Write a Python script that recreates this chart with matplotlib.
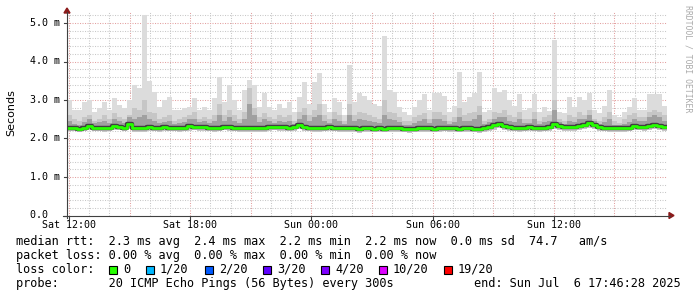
import numpy as np
import matplotlib
matplotlib.use("Agg")
import matplotlib.pyplot as plt
from matplotlib.patches import Polygon, Rectangle
from matplotlib.lines import Line2D

# ---------------- data (milliseconds) ----------------
START_H = -0.1          # hours relative to Sat 12:00
STEP_H = 0.2475         # sample interval (hours)

rtt_max = [3.0, 2.74, 2.75, 2.95, 3.0, 2.7, 2.8, 2.95, 2.75, 3.05,
           2.87, 2.8, 3.0, 3.39, 3.3, 5.2, 3.5, 3.2, 2.83, 3.0,
           3.08, 2.74, 2.74, 2.8, 2.82, 3.05, 2.75, 2.82, 2.75, 3.05,
           3.6, 2.95, 3.39, 3.0, 2.75, 3.26, 3.52, 3.4, 2.82, 3.18,
           2.82, 2.74, 2.9, 2.8, 2.95, 2.68, 3.08, 3.47, 2.9, 3.47,
           3.7, 2.9, 2.7, 3.05, 2.95, 2.6, 3.9, 2.95, 3.17, 3.1,
           3.0, 2.9, 2.85, 4.65, 3.26, 3.2, 2.82, 2.68, 2.6, 2.82,
           3.0, 3.15, 2.75, 3.17, 3.17, 3.1, 2.7, 2.85, 3.73, 2.95,
           3.08, 3.17, 3.73, 2.68, 2.75, 3.3, 3.2, 3.26, 3.0, 2.85,
           3.15, 2.75, 2.8, 3.15, 2.7, 2.82, 2.72, 4.55, 2.7, 2.65,
           3.08, 2.82, 3.08, 3.0, 3.17, 2.75, 2.65, 2.85, 3.26, 2.6,
           2.55, 2.7, 2.82, 3.05, 2.75, 2.75, 3.15, 3.15, 3.15, 2.85]

rtt_p80 = [2.6, 2.5, 2.45, 2.55, 2.6, 2.45, 2.5, 2.6, 2.5, 2.65,
           2.55, 2.5, 2.6, 2.8, 2.75, 3.0, 2.7, 2.65, 2.5, 2.55,
           2.6, 2.45, 2.5, 2.55, 2.6, 2.7, 2.5, 2.55, 2.5, 2.6,
           2.9, 2.6, 2.75, 2.6, 2.5, 2.7, 3.3, 2.8, 2.55, 2.65,
           2.55, 2.5, 2.6, 2.55, 2.6, 2.45, 2.7, 2.8, 2.6, 2.75,
           2.9, 2.6, 2.5, 2.7, 2.6, 2.45, 2.9, 2.6, 2.7, 2.65,
           2.6, 2.55, 2.5, 3.0, 2.7, 2.65, 2.55, 2.45, 2.45, 2.55,
           2.6, 2.65, 2.5, 2.7, 2.7, 2.6, 2.45, 2.55, 2.8, 2.6,
           2.65, 2.7, 2.85, 2.45, 2.5, 2.7, 2.65, 2.75, 2.6, 2.55,
           2.7, 2.5, 2.5, 2.7, 2.45, 2.55, 2.6, 3.0, 2.5, 2.45,
           2.6, 2.55, 2.7, 2.6, 2.75, 2.5, 2.45, 2.55, 2.7, 2.45,
           2.4, 2.5, 2.6, 2.65, 2.55, 2.55, 2.7, 2.75, 2.7, 2.6]

rtt_p60 = [2.45, 2.38, 2.36, 2.42, 2.5, 2.4, 2.42, 2.45, 2.4, 2.5,
           2.45, 2.4, 2.55, 2.5, 2.55, 2.6, 2.5, 2.45, 2.4, 2.42,
           2.45, 2.38, 2.4, 2.42, 2.5, 2.5, 2.42, 2.45, 2.4, 2.45,
           2.6, 2.45, 2.55, 2.45, 2.4, 2.5, 2.9, 2.6, 2.42, 2.5,
           2.45, 2.4, 2.45, 2.42, 2.45, 2.38, 2.5, 2.6, 2.45, 2.55,
           2.6, 2.45, 2.4, 2.5, 2.45, 2.38, 2.6, 2.45, 2.5, 2.48,
           2.45, 2.42, 2.4, 2.6, 2.5, 2.48, 2.42, 2.36, 2.36, 2.4,
           2.45, 2.5, 2.4, 2.5, 2.5, 2.45, 2.38, 2.42, 2.55, 2.45,
           2.45, 2.5, 2.6, 2.38, 2.42, 2.5, 2.55, 2.55, 2.45, 2.42,
           2.5, 2.4, 2.4, 2.5, 2.38, 2.42, 2.45, 2.75, 2.42, 2.38,
           2.45, 2.42, 2.5, 2.5, 2.6, 2.45, 2.38, 2.42, 2.5, 2.36,
           2.34, 2.38, 2.42, 2.5, 2.45, 2.45, 2.55, 2.6, 2.55, 2.45]

rtt_median = [2.27, 2.26, 2.25, 2.28, 2.33, 2.28, 2.27, 2.26, 2.28, 2.32,
              2.3, 2.27, 2.38, 2.27, 2.26, 2.27, 2.3, 2.28, 2.27, 2.29,
              2.27, 2.28, 2.26, 2.27, 2.32, 2.3, 2.29, 2.3, 2.28, 2.27,
              2.28, 2.29, 2.3, 2.28, 2.27, 2.26, 2.26, 2.27, 2.26, 2.27,
              2.3, 2.31, 2.3, 2.29, 2.28, 2.29, 2.34, 2.3, 2.28, 2.27,
              2.27, 2.28, 2.3, 2.28, 2.27, 2.26, 2.27, 2.26, 2.25, 2.26,
              2.26, 2.25, 2.27, 2.25, 2.26, 2.27, 2.26, 2.25, 2.24, 2.25,
              2.26, 2.27, 2.26, 2.25, 2.27, 2.28, 2.27, 2.26, 2.25, 2.26,
              2.26, 2.25, 2.24, 2.26, 2.3, 2.34, 2.38, 2.32, 2.3, 2.28,
              2.27, 2.28, 2.3, 2.28, 2.27, 2.28, 2.3, 2.37, 2.32, 2.3,
              2.3, 2.29, 2.32, 2.36, 2.4, 2.35, 2.3, 2.28, 2.27, 2.26,
              2.27, 2.26, 2.28, 2.32, 2.31, 2.3, 2.33, 2.35, 2.33, 2.3]

rtt_min = [2.2, 2.19, 2.18, 2.2, 2.22, 2.2, 2.19, 2.18, 2.2, 2.22,
           2.21, 2.19, 2.25, 2.18, 2.17, 2.18, 2.2, 2.19, 2.18, 2.2,
           2.19, 2.2, 2.18, 2.19, 2.2, 2.21, 2.2, 2.2, 2.19, 2.18,
           2.2, 2.21, 2.2, 2.19, 2.18, 2.17, 2.16, 2.18, 2.17, 2.18,
           2.2, 2.21, 2.2, 2.2, 2.19, 2.2, 2.24, 2.2, 2.19, 2.18,
           2.18, 2.19, 2.2, 2.19, 2.18, 2.17, 2.18, 2.16, 2.15, 2.17,
           2.17, 2.16, 2.18, 2.16, 2.17, 2.18, 2.17, 2.16, 2.15, 2.16,
           2.17, 2.18, 2.17, 2.16, 2.18, 2.19, 2.18, 2.17, 2.16, 2.17,
           2.17, 2.16, 2.15, 2.17, 2.2, 2.23, 2.26, 2.22, 2.2, 2.19,
           2.18, 2.19, 2.2, 2.19, 2.18, 2.19, 2.2, 2.25, 2.22, 2.2,
           2.2, 2.2, 2.22, 2.25, 2.28, 2.24, 2.2, 2.19, 2.18, 2.17,
           2.18, 2.17, 2.19, 2.22, 2.21, 2.2, 2.23, 2.25, 2.23, 2.2]

x_tick_hours = [0, 6, 12, 18, 24]
x_tick_labels = ["Sat 12:00", "Sat 18:00", "Sun 00:00", "Sun 06:00", "Sun 12:00"]
y_ticks = [0, 1, 2, 3, 4, 5]
y_tick_labels = ["0.0  ", "1.0 m", "2.0 m", "3.0 m", "4.0 m", "5.0 m"]

legend_lines = [
    "median rtt:  2.3 ms avg  2.4 ms max  2.2 ms min  2.2 ms now  0.0 ms sd  74.7   am/s",
    "packet loss: 0.00 % avg  0.00 % max  0.00 % min  0.00 % now",
]
loss_labels = ["0", "1/20", "2/20", "3/20", "4/20", "10/20", "19/20"]
loss_colors = ["#26ff00", "#00b8ff", "#0059ff", "#5e00ff", "#7e00ff", "#dd00ff", "#ff0000"]
probe_text = "probe:       20 ICMP Echo Pings (56 Bytes) every 300s"
end_text = "end: Sun Jul  6 17:46:28 2025"

# ---------------- layout ----------------
W, H = 697, 297
PX_PER_H = 20.2
X0_PX = 69.0          # pixel of Sat 12:00
Y0_PX = 215.5         # pixel of 0
PX_PER_MS = 38.5
AX_L, AX_R, AX_T = 67, 667, 11

def fx(x):
    return x / W

def fy(y):
    return 1 - y / H

fig = plt.figure(figsize=(W / 100, H / 100), dpi=100)
fig.patch.set_facecolor("white")
ax = fig.add_axes([fx(AX_L), fy(Y0_PX), (AX_R - AX_L) / W, (Y0_PX - AX_T) / H])
ax.set_facecolor("white")
xmin = (AX_L - X0_PX) / PX_PER_H
xmax = (AX_R - X0_PX) / PX_PER_H
ymax = (Y0_PX - AX_T) / PX_PER_MS
ax.set_xlim(xmin, xmax)
ax.set_ylim(0, ymax)
for s in ax.spines.values():
    s.set_visible(False)
ax.set_xticks([])
ax.set_yticks([])

# grid
dot = (0, (1.0, 1.4))
for h in range(0, 30):
    major = (h % 3 == 0)
    ax.axvline(h, color="#e3a1a1" if major else "#c8c8c8", lw=0.75, ls=dot, zorder=1)
for k in range(1, 27):
    yv = k * 0.2
    if yv > ymax:
        break
    major = (k % 5 == 0)
    ax.axhline(yv, color="#e3a1a1" if major else "#c8c8c8", lw=0.75, ls=dot, zorder=1)

# data
n = len(rtt_median)
t = START_H + STEP_H * np.arange(n + 1)

def ext(a):
    a = np.asarray(a, dtype=float)
    return np.append(a, a[-1])

mx, p80, p60, med, mn = map(ext, (rtt_max, rtt_p80, rtt_p60, rtt_median, rtt_min))
ax.fill_between(t, mn, mx, step="post", color="#dcdcdc", lw=0, zorder=2)
ax.fill_between(t, mn, p80, step="post", color="#c6c6c6", lw=0, zorder=3)
ax.fill_between(t, med, p60, step="post", color="#a0a0a0", lw=0, zorder=4)
ax.step(t, med, where="post", color="#404040", lw=3.2, zorder=5, solid_capstyle="butt")
ax.step(t, med, where="post", color="#26ff00", lw=2.0, zorder=6, solid_capstyle="butt")

# axes lines and arrows
axis_col = "#404040"
arrow_col = "#8b1a1a"
fig.add_artist(Line2D([fx(63), fx(670)], [fy(Y0_PX), fy(Y0_PX)], color=axis_col, lw=0.8))
fig.add_artist(Line2D([fx(67), fx(67)], [fy(218), fy(12)], color=axis_col, lw=0.8))
fig.add_artist(Polygon([[fx(669), fy(212.5)], [fx(669), fy(218.5)], [fx(674), fy(215.5)]],
                       closed=True, color=arrow_col, transform=fig.transFigure))
fig.add_artist(Polygon([[fx(64), fy(13)], [fx(70), fy(13)], [fx(67), fy(8)]],
                       closed=True, color=arrow_col, transform=fig.transFigure))

mono = "DejaVu Sans Mono"
# y tick labels
for v, lab in zip(y_ticks, y_tick_labels):
    ypx = Y0_PX - v * PX_PER_MS
    fig.text(fx(60), fy(ypx), lab, ha="right", va="center", family=mono, fontsize=7.2, color="#000000")
    fig.add_artist(Line2D([fx(64), fx(67)], [fy(ypx), fy(ypx)], color=axis_col, lw=0.8))
# x tick labels
for h, lab in zip(x_tick_hours, x_tick_labels):
    xpx = X0_PX + h * PX_PER_H
    fig.text(fx(xpx), fy(225), lab, ha="center", va="center", family=mono, fontsize=7.2, color="#000000")
    fig.add_artist(Line2D([fx(xpx), fx(xpx)], [fy(Y0_PX), fy(Y0_PX + 3)], color=axis_col, lw=0.8))

# y label
fig.text(fx(11), fy(113), "Seconds", rotation=90, ha="center", va="center",
         family="DejaVu Sans", fontsize=8, color="#000000")

# watermark
fig.text(fx(688), fy(5), "RRDTOOL / TOBI OETIKER", rotation=-90, ha="center", va="top",
         family=mono, fontsize=5.9, color="#aaaaaa")

# legend text
LEG_FS = 8.55
fig.text(fx(16), fy(241.5), legend_lines[0], ha="left", va="center", family=mono, fontsize=LEG_FS)
fig.text(fx(16), fy(255.5), legend_lines[1], ha="left", va="center", family=mono, fontsize=LEG_FS)
fig.text(fx(16), fy(269.5), "loss color:", ha="left", va="center", family=mono, fontsize=LEG_FS)
box_x = [109, 146, 205, 263, 321, 379, 444]
text_x = [123, 160, 219, 277, 335, 393, 458]
for bx, tx, lab, col in zip(box_x, text_x, loss_labels, loss_colors):
    fig.add_artist(Rectangle((fx(bx), fy(273.5)), 8 / W, 8 / H, transform=fig.transFigure,
                             facecolor=col, edgecolor="#000000", lw=0.8))
    fig.text(fx(tx), fy(269.5), lab, ha="left", va="center", family=mono, fontsize=LEG_FS)
fig.text(fx(16), fy(283.5), probe_text, ha="left", va="center", family=mono, fontsize=LEG_FS)
fig.text(fx(681), fy(283.5), end_text, ha="right", va="center", family=mono, fontsize=LEG_FS)

fig.savefig("out.png", dpi=100, facecolor="white")
